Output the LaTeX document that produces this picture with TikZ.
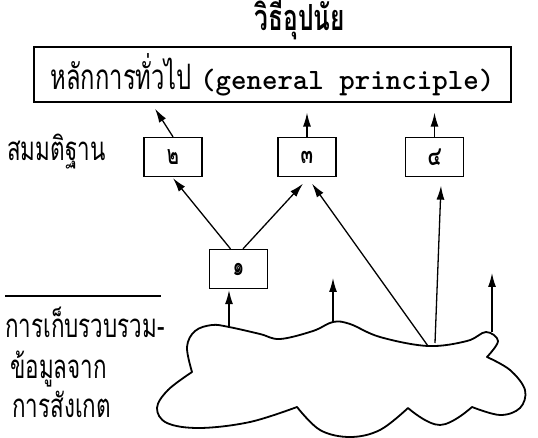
\documentclass[tikz,border=0pt]{standalone}
\usepackage{fontspec}
\newfontfamily\thai[Script=Thai, FakeStretch=0.68]{Loma}
\usetikzlibrary{arrows.meta}
\tikzset{
  numbox/.style={draw, line width=1.3pt, minimum width=58pt, minimum height=39pt, inner sep=0pt,
    font=\thai\bfseries\fontsize{27}{27}\selectfont},
  arr/.style={-{Latex[length=14pt,width=8pt]}, line width=1.3pt},
  lbl/.style={anchor=base west, inner sep=0pt, font=\thai\fontsize{33}{33}\selectfont},
  cloudline/.style={line width=1.8pt, line join=round}
}
\begin{document}
\begin{tikzpicture}[x=1pt,y=-1pt]
\useasboundingbox (0,0) rectangle (538,438);
% title
\node[inner sep=0pt, anchor=base, font=\thai\bfseries\fontsize{36}{36}\selectfont] (title) at (300,31) {วิธีอุปนัย};
% general principle
\node[draw, line width=1.3pt, minimum width=477pt, minimum height=55pt, inner sep=0pt] (gp) at (272.5,74.5)
  {\thai\fontsize{35}{35}\selectfont หลักการทั่วไป {\ttfamily\bfseries\fontsize{29.5}{29.5}\selectfont(general principle)}};
% hypothesis boxes
\node[numbox] (b2) at (173,157) {๒\hspace{8pt}};
\node[numbox] (b3) at (307,157) {๓\hspace{10pt}};
\node[numbox] (b4) at (434.5,157) {๔\hspace{10pt}};
\node[numbox] (b1) at (238.5,269) {๑\hspace{16pt}};
% labels
\node[lbl] (hyp) at (7,161) {สมมติฐาน};
\coordinate (l1) at (5,296);
\coordinate (l2) at (161,296);
\draw[line width=1.2pt] (l1) -- (l2);
\node[lbl] (t1) at (5,337) {การเก็บรวบรวม-};
\node[lbl] (t2) at (10,378) {ข้อมูลจาก};
\node[lbl] (t3) at (12,417) {การสังเกต};
% cloud
\draw[cloudline]
  plot[smooth, tension=0.6] coordinates {(192,372) (187,347) (195,331) (212,325) (229,327) (260,334) (280,339) (313,331) (333,322) (350,324) (380,337) (428,346) (467,341) (486,332) (498,341) (487,357)}
  -- plot[smooth, tension=0.6] coordinates {(487,357) (510,370) (525,390) (520,408) (500,415) (472,407)}
  -- plot[smooth, tension=0.7] coordinates {(472,407) (440,425) (408,408)}
  -- plot[smooth, tension=0.6] coordinates {(408,408) (380,430) (350,437) (320,430) (297,407)}
  -- plot[smooth, tension=0.6] coordinates {(297,407) (250,422) (200,428) (167,423) (157,408) (168,390) (192,372)} -- cycle;
% cloud points
\coordinate (c1) at (229,327);
\coordinate (c2) at (333,322);
\coordinate (c3) at (428,346);
\coordinate (c4) at (435,343);
\coordinate (c5) at (492,332);
\coordinate (e2) at (333,278);
\coordinate (e5) at (492,273);
% arrows to general principle
\draw[arr] (b2.north) -- ([xshift=-18pt,yshift=-6pt]b2.north |- gp.south);
\draw[arr] (b3.north) -- ([yshift=-10pt]b3.north |- gp.south);
\draw[arr] (b4.north) -- ([yshift=-10pt]b4.north |- gp.south);
% from 1
\draw[arr] ([xshift=-8pt]b1.north) -- ([yshift=-1pt]b2.south);
\draw[arr] ([xshift=4.5pt]b1.north) -- ([xshift=-4pt,yshift=-6.5pt]b3.south);
% from cloud
\draw[arr] (c3) -- ([xshift=5pt,yshift=-6.5pt]b3.south);
\draw[arr] (c4) -- ([xshift=6.5pt,yshift=-8.5pt]b4.south);
\draw[arr] (c1) -- ([xshift=-9.5pt,yshift=-1pt]b1.south);
\draw[arr] (c2) -- (e2);
\draw[arr] (c5) -- (e5);
\end{tikzpicture}
\end{document}
